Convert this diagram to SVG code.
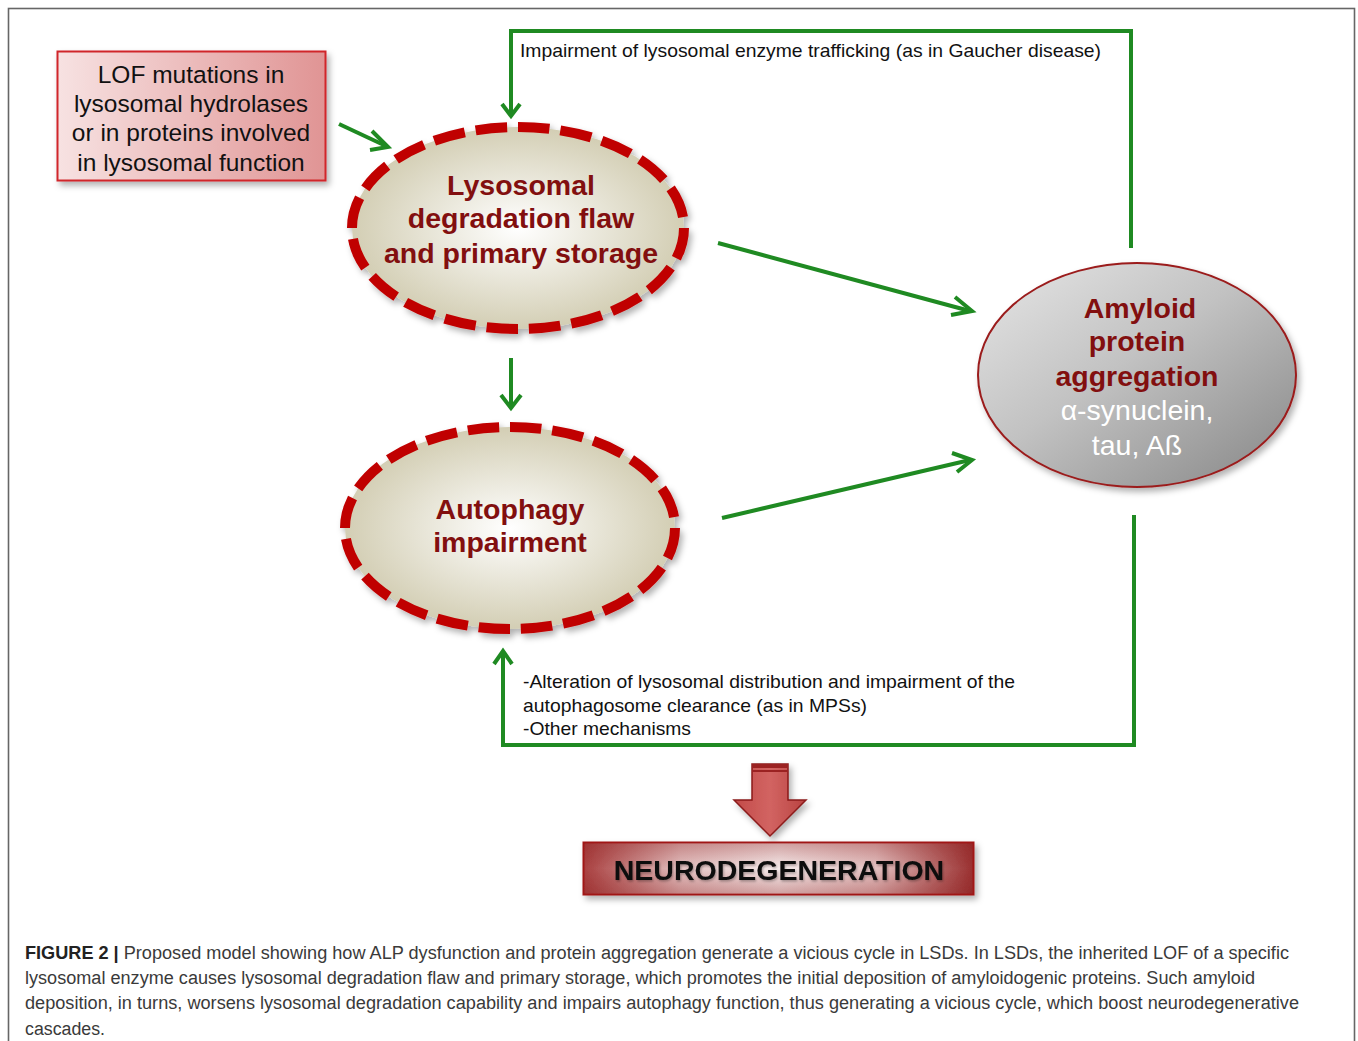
<svg xmlns="http://www.w3.org/2000/svg" width="1358" height="1041" viewBox="0 0 1358 1041">
  <defs>
    <linearGradient id="lofGrad" x1="0" y1="0" x2="1" y2="0">
      <stop offset="0" stop-color="#f7e2e2"/>
      <stop offset="1" stop-color="#e09494"/>
    </linearGradient>
    <radialGradient id="beigeGrad" cx="0.5" cy="0.5" r="0.5">
      <stop offset="0" stop-color="#ffffff"/>
      <stop offset="1" stop-color="#d3ceb4"/>
    </radialGradient>
    <linearGradient id="grayGrad" x1="0" y1="0" x2="1" y2="1">
      <stop offset="0" stop-color="#e6e6e6"/>
      <stop offset="0.45" stop-color="#c2c2c2"/>
      <stop offset="1" stop-color="#858585"/>
    </linearGradient>
    <linearGradient id="neuroGrad" x1="0" y1="0" x2="1" y2="0">
      <stop offset="0" stop-color="#a94040"/>
      <stop offset="0.25" stop-color="#e4c2c2"/>
      <stop offset="0.5" stop-color="#f6ecec"/>
      <stop offset="0.75" stop-color="#e4c2c2"/>
      <stop offset="1" stop-color="#9a3030"/>
    </linearGradient>
    <linearGradient id="neuroGradV" x1="0" y1="0" x2="0" y2="1">
      <stop offset="0" stop-color="#8b1a1a" stop-opacity="0.35"/>
      <stop offset="0.5" stop-color="#8b1a1a" stop-opacity="0"/>
      <stop offset="1" stop-color="#8b1a1a" stop-opacity="0.35"/>
    </linearGradient>
    <linearGradient id="arrowGrad" x1="0" y1="0" x2="1" y2="0">
      <stop offset="0" stop-color="#c24a48"/>
      <stop offset="0.5" stop-color="#d26462"/>
      <stop offset="1" stop-color="#b94341"/>
    </linearGradient>
    <filter id="shadow" x="-10%" y="-10%" width="125%" height="130%">
      <feDropShadow dx="3" dy="4" stdDeviation="3" flood-color="#000" flood-opacity="0.3"/>
    </filter>
    <filter id="shadowText" x="-5%" y="-20%" width="110%" height="150%">
      <feDropShadow dx="1" dy="1.5" stdDeviation="1" flood-color="#000" flood-opacity="0.3"/>
    </filter>
  </defs>
  <style>
    .frame { fill: #ffffff; stroke: #666666; stroke-width: 1.6; }
    .conn { fill: none; stroke: #1f8a22; stroke-width: 4; stroke-linejoin: miter; }
    .head { fill: none; stroke: #1f8a22; stroke-width: 4; stroke-linecap: butt; stroke-linejoin: miter; }
    .dashEll { fill: url(#beigeGrad); stroke: #c00000; stroke-width: 10; stroke-dasharray: 37 13; }
    .ellText { font-family: "Liberation Sans", Arial, sans-serif; font-weight: bold; font-size: 28.5px; fill: #820f0f; text-anchor: middle; }
    .lofText { font-family: "Liberation Sans", Arial, sans-serif; font-size: 24.5px; fill: #111111; text-anchor: middle; }
    .label { font-family: "Liberation Sans", Arial, sans-serif; font-size: 19px; fill: #111111; }
    .caption { font-family: "Liberation Sans", Arial, sans-serif; font-size: 18px; fill: #3a3a3a; }
    .whiteText { font-family: "Liberation Sans", Arial, sans-serif; font-size: 28.5px; fill: #ffffff; text-anchor: middle; }
  </style>

  <rect class="frame" x="8.5" y="8.5" width="1346" height="1040"/>

  <g id="lof">
    <rect x="57.5" y="51.5" width="268" height="129" fill="url(#lofGrad)" stroke="#d0262a" stroke-width="2" filter="url(#shadow)"/>
    <text class="lofText" x="191" y="83">LOF mutations in</text>
    <text class="lofText" x="191" y="112">lysosomal hydrolases</text>
    <text class="lofText" x="191" y="141">or in proteins involved</text>
    <text class="lofText" x="191" y="171">in lysosomal function</text>
  </g>

  <g id="lysosomal">
    <ellipse cx="518" cy="228" rx="166" ry="101" pathLength="1000" class="dashEll" filter="url(#shadow)"/>
    <text class="ellText" x="521" y="195">Lysosomal</text>
    <text class="ellText" x="521" y="228">degradation flaw</text>
    <text class="ellText" x="521" y="263">and primary storage</text>
  </g>

  <g id="autophagy">
    <ellipse cx="510" cy="528" rx="165" ry="101" pathLength="1000" class="dashEll" filter="url(#shadow)"/>
    <text class="ellText" x="510" y="519">Autophagy</text>
    <text class="ellText" x="510" y="552">impairment</text>
  </g>

  <g id="amyloid">
    <ellipse cx="1137" cy="375" rx="159" ry="112" fill="url(#grayGrad)" stroke="#9b1b1b" stroke-width="2" filter="url(#shadow)"/>
    <text class="ellText" x="1140" y="318">Amyloid</text>
    <text class="ellText" x="1137" y="351">protein</text>
    <text class="ellText" x="1137" y="386">aggregation</text>
    <text class="whiteText" x="1137" y="420">α-synuclein,</text>
    <text class="whiteText" x="1137" y="455">tau, Aß</text>
  </g>

  <g id="neurodegeneration">
    <g filter="url(#shadow)">
      <polygon points="752,764 788,764 788,800 806,800 770,836 734,800 752,800" fill="url(#arrowGrad)" stroke="#8b1a1a" stroke-width="1.5"/>
      <rect x="752" y="764" width="36" height="4" fill="#9b2020"/>
      <rect x="752" y="770" width="36" height="2" fill="#9b2020"/>
      <rect x="583.5" y="842.5" width="390" height="52" fill="url(#neuroGrad)" stroke="#a01414" stroke-width="2"/>
      <rect x="584.5" y="843.5" width="388" height="50" fill="url(#neuroGradV)"/>
    </g>
    <text x="779" y="880" font-family="&quot;Liberation Sans&quot;, Arial, sans-serif" font-weight="bold" font-size="28.5" fill="#0a0a0a" text-anchor="middle" filter="url(#shadowText)">NEURODEGENERATION</text>
  </g>

  <g id="connectors">
    <line class="conn" x1="339" y1="124" x2="386" y2="146"/>
    <polyline class="head" points="372,131 388,147 370,150"/>

    <polyline class="conn" points="1131,248 1131,31 511,31 511,115"/>
    <polyline class="head" points="502,104 511,116 520,104"/>

    <line class="conn" x1="718" y1="243" x2="970" y2="311"/>
    <polyline class="head" points="955,297 972,311 951,315"/>

    <line class="conn" x1="511" y1="358" x2="511" y2="406"/>
    <polyline class="head" points="501,395 511,408 521,395"/>

    <line class="conn" x1="722" y1="518" x2="970" y2="460"/>
    <polyline class="head" points="952,453 972,460 957,472"/>

    <polyline class="conn" points="1134,515 1134,745 503,745 503,652"/>
    <polyline class="head" points="494,664 503,651 512,664"/>
  </g>

  <g id="labels">
    <text class="label" x="520" y="57" textLength="581" lengthAdjust="spacingAndGlyphs">Impairment of lysosomal enzyme trafficking (as in Gaucher disease)</text>
    <text class="label" x="523" y="688" textLength="492" lengthAdjust="spacingAndGlyphs">-Alteration of lysosomal distribution and impairment of the</text>
    <text class="label" x="523" y="712" textLength="344" lengthAdjust="spacingAndGlyphs">autophagosome clearance (as in MPSs)</text>
    <text class="label" x="523" y="735" textLength="168" lengthAdjust="spacingAndGlyphs">-Other mechanisms</text>
  </g>

  <g id="caption">
    <text class="caption" x="25" y="959" textLength="1264" lengthAdjust="spacingAndGlyphs"><tspan font-weight="bold" fill="#222">FIGURE 2 |</tspan> Proposed model showing how ALP dysfunction and protein aggregation generate a vicious cycle in LSDs. In LSDs, the inherited LOF of a specific</text>
    <text class="caption" x="25" y="984" textLength="1230" lengthAdjust="spacingAndGlyphs">lysosomal enzyme causes lysosomal degradation flaw and primary storage, which promotes the initial deposition of amyloidogenic proteins. Such amyloid</text>
    <text class="caption" x="25" y="1009" textLength="1274" lengthAdjust="spacingAndGlyphs">deposition, in turns, worsens lysosomal degradation capability and impairs autophagy function, thus generating a vicious cycle, which boost neurodegenerative</text>
    <text class="caption" x="25" y="1035" textLength="80" lengthAdjust="spacingAndGlyphs">cascades.</text>
  </g>
</svg>
